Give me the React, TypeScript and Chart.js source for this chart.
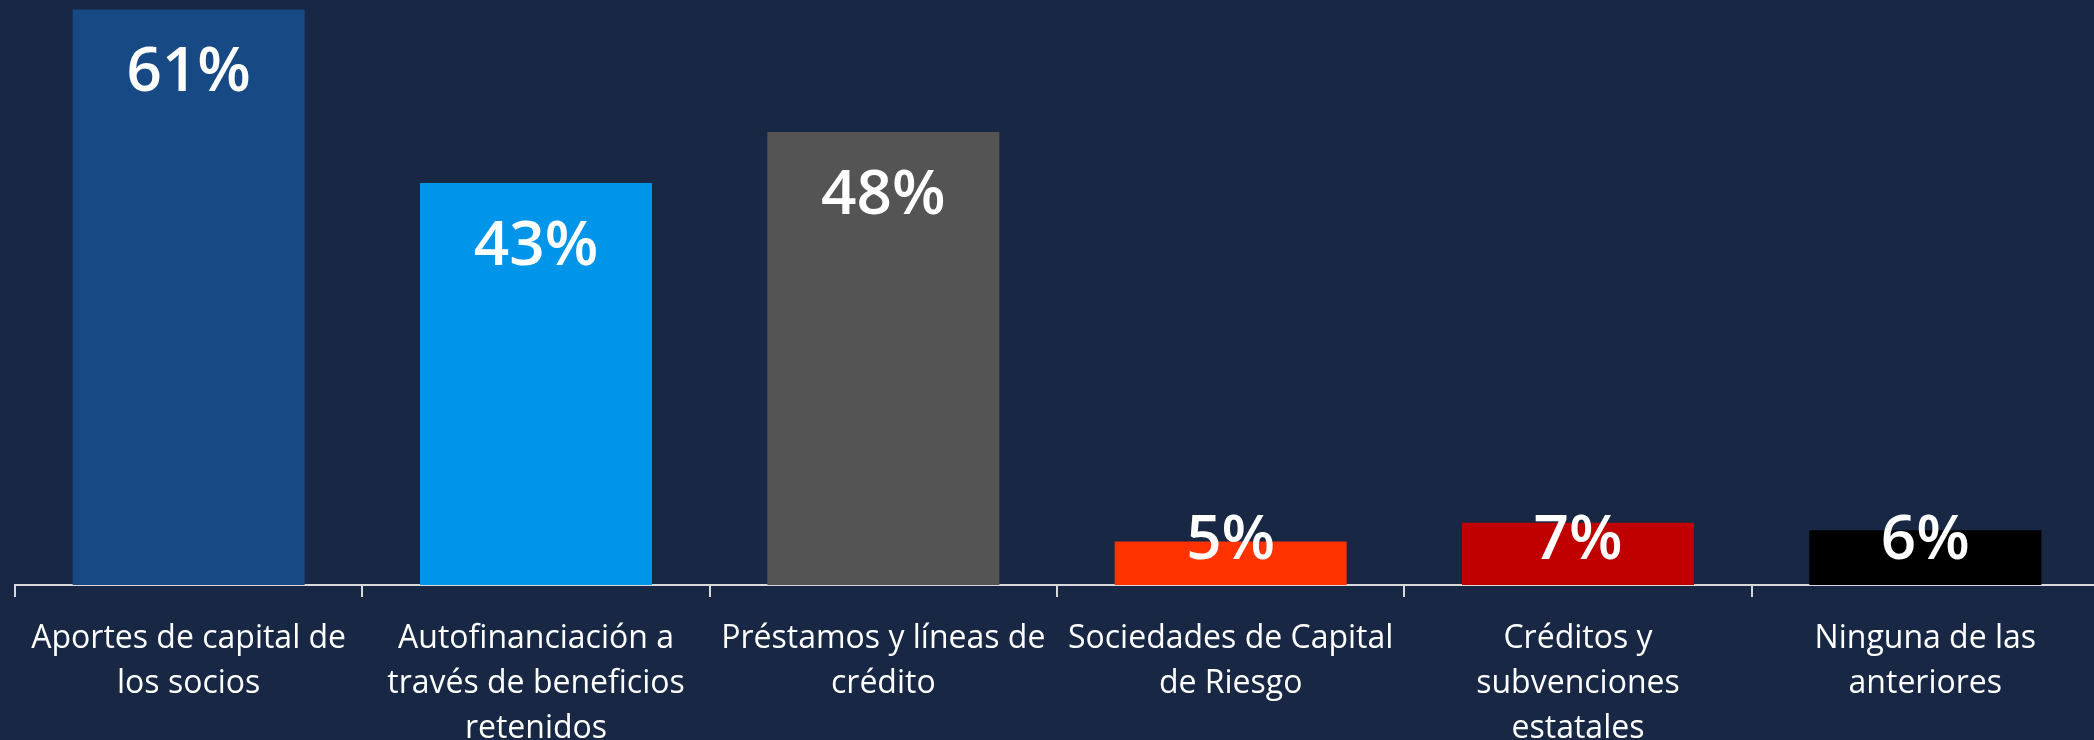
import React, { useEffect, useRef } from "react";
import { Chart, registerables } from "chart.js";

Chart.register(...registerables);

const categories: string[][] = [
  ["Aportes de capital de", "los socios"],
  ["Autofinanciación a", "través de beneficios", "retenidos"],
  ["Préstamos y líneas de", "crédito"],
  ["Sociedades de Capital", "de Riesgo"],
  ["Créditos y", "subvenciones", "estatales"],
  ["Ninguna de las", "anteriores"],
];

const values: number[] = [61, 42.6, 48, 4.6, 6.6, 5.8];

const barColors: string[] = ["#174984", "#0095E9", "#545454", "#FF3300", "#C00000", "#000000"];

const BG = "#172744";
const AXIS = "#D9D9D9";

const valueLabelPlugin = {
  id: "valueLabels",
  afterDatasetsDraw(chart: any) {
    const ctx = chart.ctx;
    const meta = chart.getDatasetMeta(0);
    ctx.save();
    ctx.fillStyle = "#FFFFFF";
    ctx.font = "600 62px 'Open Sans'";
    ctx.textAlign = "center";
    ctx.textBaseline = "alphabetic";
    meta.data.forEach((bar: any, i: number) => {
      const top = bar.y;
      const base = bar.base;
      const yb = Math.min(top + 82, base - 26.5);
      ctx.fillText(Math.round(values[i]) + "%", bar.x, yb);
    });
    ctx.restore();
  },
};

export default function App() {
  const ref = useRef<HTMLCanvasElement>(null);
  useEffect(() => {
    document.body.style.margin = "0";
    document.body.style.background = BG;
    const canvas = ref.current!;
    const chart = new Chart(canvas, {
      type: "bar",
      data: {
        labels: categories as any,
        datasets: [
          {
            data: values,
            backgroundColor: barColors,
            borderWidth: 0,
            categoryPercentage: 1,
            barPercentage: 0.668,
          },
        ],
      },
      options: {
        responsive: false,
        animation: false,
        devicePixelRatio: 1,
        layout: { padding: { left: 15, right: 1, top: 0, bottom: 0 } },
        plugins: { legend: { display: false }, tooltip: { enabled: false }, title: { display: false } },
        scales: {
          x: {
            offset: true,
            grid: {
              display: true,
              offset: true,
              drawOnChartArea: false,
              drawTicks: true,
              tickLength: 12,
              color: AXIS,
              lineWidth: 2,
            },
            border: { display: true, color: AXIS, width: 2 },
            ticks: {
              color: "#FFFFFF",
              padding: 19.5,
              maxRotation: 0,
              minRotation: 0,
              autoSkip: false,
              font: { family: "'Open Sans'", size: 32, lineHeight: 45 / 32 },
            },
            afterFit: (scale: any) => {
              scale.height = 155;
            },
          },
          y: { display: false, min: 0, max: 62 },
        },
      },
      plugins: [valueLabelPlugin],
    });
    return () => chart.destroy();
  }, []);
  return (
    <div style={{ width: 2094, height: 740, overflow: "hidden", background: BG, position: "relative" }}>
      <canvas ref={ref} width={2100} height={740} style={{ display: "block", width: 2100, height: 740 }} />
    </div>
  );
}
